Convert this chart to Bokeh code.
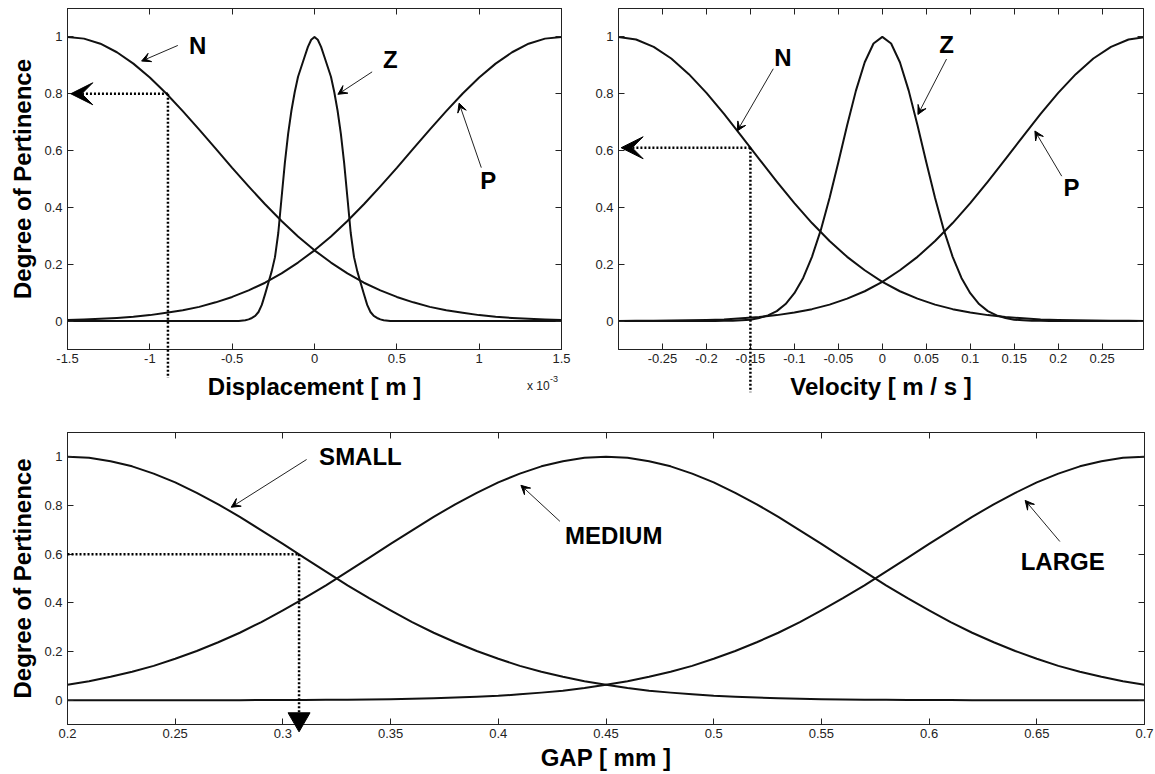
from bokeh.plotting import figure
from bokeh.models import LinearAxis, FixedTicker, Range1d, Label, Arrow, VeeHead
from bokeh.core.properties import value
from bokeh.layouts import column, row
from bokeh.embed import file_html
from bokeh.resources import INLINE

FONT = "Liberation Sans"
INK = "#111111"

# ---------------- data ----------------
# Displacement membership functions (x in units of 1e-3 m)
disp_x = [-1.5, -1.4, -1.3, -1.2, -1.1, -1.0, -0.9, -0.8, -0.7, -0.6, -0.5,
          -0.4, -0.3, -0.2, -0.1, 0.0, 0.1, 0.2, 0.3, 0.4, 0.5,
          0.6, 0.7, 0.8, 0.9, 1.0, 1.1, 1.2, 1.3, 1.4, 1.5]
disp_N = [1.000, 0.994, 0.976, 0.946, 0.906, 0.857, 0.801, 0.739, 0.674, 0.607, 0.539,
          0.474, 0.411, 0.352, 0.298, 0.249, 0.206, 0.168, 0.135, 0.108, 0.085,
          0.066, 0.050, 0.038, 0.029, 0.021, 0.015, 0.011, 0.008, 0.006, 0.004]
disp_P = [0.004, 0.006, 0.008, 0.011, 0.015, 0.021, 0.029, 0.038, 0.050, 0.066, 0.085,
          0.108, 0.135, 0.168, 0.206, 0.249, 0.298, 0.352, 0.411, 0.474, 0.539,
          0.607, 0.674, 0.739, 0.801, 0.857, 0.906, 0.946, 0.976, 0.994, 1.000]
dispZ_x = [-1.5, -0.6, -0.46, -0.42, -0.40, -0.38, -0.36, -0.34, -0.32, -0.30, -0.28,
           -0.26, -0.24, -0.22, -0.20, -0.18, -0.16, -0.14, -0.12, -0.10, -0.08,
           -0.06, -0.04, -0.02, 0.0, 0.02, 0.04, 0.06, 0.08, 0.10, 0.12,
           0.14, 0.16, 0.18, 0.20, 0.22, 0.24, 0.26, 0.28, 0.30, 0.32,
           0.34, 0.36, 0.38, 0.40, 0.42, 0.46, 0.6, 1.5]
disp_Z = [0.0, 0.0, 0.0, 0.003, 0.006, 0.011, 0.018, 0.032, 0.057, 0.095, 0.135,
          0.175, 0.225, 0.310, 0.434, 0.557, 0.660, 0.741, 0.806, 0.860, 0.895,
          0.930, 0.965, 0.990, 1.000, 0.990, 0.965, 0.930, 0.895, 0.860, 0.806,
          0.741, 0.660, 0.557, 0.434, 0.310, 0.225, 0.175, 0.135, 0.095, 0.057,
          0.032, 0.018, 0.011, 0.006, 0.003, 0.0, 0.0, 0.0]

# Velocity membership functions (m/s)
vel_x = [-0.30, -0.28, -0.26, -0.24, -0.22, -0.20, -0.18, -0.16, -0.14, -0.12, -0.10,
         -0.08, -0.06, -0.04, -0.02, 0.00, 0.02, 0.04, 0.06, 0.08, 0.10,
         0.12, 0.14, 0.16, 0.18, 0.20, 0.22, 0.24, 0.26, 0.28, 0.30]
vel_N = [1.000, 0.991, 0.965, 0.924, 0.869, 0.803, 0.729, 0.650, 0.570, 0.491, 0.415,
         0.345, 0.282, 0.226, 0.179, 0.138, 0.105, 0.079, 0.058, 0.042, 0.030,
         0.021, 0.014, 0.010, 0.006, 0.004, 0.003, 0.002, 0.001, 0.001, 0.000]
vel_P = [0.000, 0.001, 0.001, 0.002, 0.003, 0.004, 0.006, 0.010, 0.014, 0.021, 0.030,
         0.042, 0.058, 0.079, 0.105, 0.138, 0.179, 0.226, 0.282, 0.345, 0.415,
         0.491, 0.570, 0.650, 0.729, 0.803, 0.869, 0.924, 0.965, 0.991, 1.000]
velZ_x = [-0.30, -0.20, -0.19, -0.18, -0.17, -0.16, -0.15, -0.14, -0.13, -0.12, -0.11,
          -0.10, -0.09, -0.08, -0.07, -0.06, -0.05, -0.04, -0.03, -0.02, -0.01,
          0.00, 0.01, 0.02, 0.03, 0.04, 0.05, 0.06, 0.07, 0.08, 0.09,
          0.10, 0.11, 0.12, 0.13, 0.14, 0.15, 0.16, 0.17, 0.18, 0.19, 0.20, 0.30]
vel_Z = [0.0, 0.0, 0.0, 0.001, 0.001, 0.003, 0.005, 0.011, 0.020, 0.035, 0.060,
         0.098, 0.152, 0.226, 0.320, 0.433, 0.559, 0.689, 0.811, 0.911, 0.977,
         1.000, 0.977, 0.911, 0.811, 0.689, 0.559, 0.433, 0.320, 0.226, 0.152,
         0.098, 0.060, 0.035, 0.020, 0.011, 0.005, 0.003, 0.001, 0.001, 0.0, 0.0, 0.0]

# Gap membership functions (mm)
gap_x = [0.20, 0.21, 0.22, 0.23, 0.24, 0.25, 0.26, 0.27, 0.28, 0.29,
         0.30, 0.31, 0.32, 0.33, 0.34, 0.35, 0.36, 0.37, 0.38, 0.39,
         0.40, 0.41, 0.42, 0.43, 0.44, 0.45, 0.46, 0.47, 0.48, 0.49,
         0.50, 0.51, 0.52, 0.53, 0.54, 0.55, 0.56, 0.57, 0.58, 0.59,
         0.60, 0.61, 0.62, 0.63, 0.64, 0.65, 0.66, 0.67, 0.68, 0.69, 0.70]
gap_small = [1.000, 0.996, 0.982, 0.961, 0.931, 0.895, 0.852, 0.805, 0.753, 0.698,
             0.642, 0.585, 0.528, 0.472, 0.419, 0.369, 0.321, 0.277, 0.238, 0.202,
             0.170, 0.141, 0.117, 0.096, 0.078, 0.063, 0.050, 0.039, 0.031, 0.024,
             0.018, 0.014, 0.011, 0.008, 0.006, 0.004, 0.003, 0.002, 0.002, 0.001,
             0.001, 0.001, 0.000, 0.000, 0.000, 0.000, 0.000, 0.000, 0.000, 0.000, 0.000]
gap_medium = [0.063, 0.078, 0.096, 0.117, 0.141, 0.170, 0.202, 0.238, 0.277, 0.321,
              0.369, 0.419, 0.472, 0.528, 0.585, 0.642, 0.698, 0.753, 0.805, 0.852,
              0.895, 0.931, 0.961, 0.982, 0.996, 1.000, 0.996, 0.982, 0.961, 0.931,
              0.895, 0.852, 0.805, 0.753, 0.698, 0.642, 0.585, 0.528, 0.472, 0.419,
              0.369, 0.321, 0.277, 0.238, 0.202, 0.170, 0.141, 0.117, 0.096, 0.078, 0.063]
gap_large = [0.000, 0.000, 0.000, 0.000, 0.000, 0.000, 0.000, 0.000, 0.000, 0.001,
             0.001, 0.001, 0.002, 0.002, 0.003, 0.004, 0.006, 0.008, 0.011, 0.014,
             0.018, 0.024, 0.031, 0.039, 0.050, 0.063, 0.078, 0.096, 0.117, 0.141,
             0.170, 0.202, 0.238, 0.277, 0.321, 0.369, 0.419, 0.472, 0.528, 0.585,
             0.642, 0.698, 0.753, 0.805, 0.852, 0.895, 0.931, 0.961, 0.982, 0.996, 1.000]

# Read-off examples: (input value, degree of pertinence)
disp_probe = (-0.89, 0.8)
vel_probe = (-0.15, 0.61)
gap_probe = (0.3075, 0.6)

# Tick values and labels
y_ticks = [0, 0.2, 0.4, 0.6, 0.8, 1]
y_labels = ["0", "0.2", "0.4", "0.6", "0.8", "1"]
disp_ticks = [-1.5, -1.0, -0.5, 0.0, 0.5, 1.0, 1.5]
disp_labels = ["-1.5", "-1", "-0.5", "0", "0.5", "1", "1.5"]
vel_ticks = [-0.25, -0.2, -0.15, -0.1, -0.05, 0.0, 0.05, 0.1, 0.15, 0.2, 0.25]
vel_labels = ["-0.25", "-0.2", "-0.15", "-0.1", "-0.05", "0", "0.05", "0.1", "0.15", "0.2", "0.25"]
gap_ticks = [0.2, 0.25, 0.3, 0.35, 0.4, 0.45, 0.5, 0.55, 0.6, 0.65, 0.7]
gap_labels = ["0.2", "0.25", "0.3", "0.35", "0.4", "0.45", "0.5", "0.55", "0.6", "0.65", "0.7"]


# ---------------- helpers ----------------
def style_axis(ax, ticks, labels, show_labels=True):
    ax.ticker = FixedTicker(ticks=ticks)
    ax.major_tick_in = 6
    ax.major_tick_out = 0
    ax.minor_tick_line_color = None
    ax.axis_line_color = "#222222"
    ax.major_tick_line_color = "#222222"
    ax.axis_label_text_font = FONT
    ax.axis_label_text_font_size = "24px"
    ax.axis_label_text_font_style = "bold"
    ax.axis_label_text_color = "black"
    ax.major_label_text_font = FONT
    if show_labels:
        ax.major_label_overrides = dict(zip(ticks, labels))
        ax.major_label_text_font_size = "13px"
        ax.major_label_text_color = "#222222"
    else:
        # box-style tick marks only: labels are not painted
        ax.major_label_text_font_size = "1px"
        ax.major_label_text_color = None
        ax.major_label_standoff = 0


def make_panel(width, height, xr, borders, xticks, xlabels, xtitle, ytitle, title_gap):
    p = figure(width=width, height=height, x_range=Range1d(*xr), y_range=Range1d(-0.1, 1.1),
               output_backend="svg", toolbar_location=None,
               min_border_left=borders[0], min_border_right=borders[1],
               min_border_top=borders[2], min_border_bottom=borders[3])
    p.grid.visible = False
    p.outline_line_color = "#222222"
    p.background_fill_color = "white"
    p.border_fill_color = "white"
    style_axis(p.xaxis[0], xticks, xlabels)
    style_axis(p.yaxis[0], y_ticks, y_labels)
    p.xaxis[0].axis_label = xtitle
    p.xaxis[0].major_label_standoff = 4
    p.xaxis[0].axis_label_standoff = title_gap
    if ytitle:
        p.yaxis[0].axis_label = ytitle
        p.yaxis[0].axis_label_standoff = 5
    top = LinearAxis()
    style_axis(top, xticks, xlabels, show_labels=False)
    p.add_layout(top, "above")
    right = LinearAxis()
    style_axis(right, y_ticks, y_labels, show_labels=False)
    p.add_layout(right, "right")
    return p


def curve(p, x, y):
    p.line(x, y, line_color=INK, line_width=2, line_join="round")


def tag(p, x, y, text):
    p.add_layout(Label(x=x, y=y, text=text, text_font=FONT, text_font_size="24px",
                       text_font_style="bold", text_color="black",
                       text_align="center", text_baseline="middle"))


def pointer(p, x0, y0, x1, y1):
    p.add_layout(Arrow(x_start=x0, y_start=y0, x_end=x1, y_end=y1,
                       line_color="#222222", line_width=1,
                       end=VeeHead(size=9, fill_color="black", line_color="black", line_width=1)))


def dotted(p, xs, ys):
    # drawn on the overlay level so it may run past the axes box
    p.line(xs, ys, line_color="black", line_width=2.5, line_dash="2 2", level="overlay")


def readout_left(p, probe, x_edge, y_low):
    px, py = probe
    p.add_layout(Arrow(x_start=px, y_start=py, x_end=x_edge, y_end=py,
                       line_color="black", line_width=2.5, line_dash="2 2",
                       end=VeeHead(size=22, fill_color="black", line_color="black")))
    dotted(p, [px, px], [py, y_low])


# ---------------- displacement ----------------
p1 = make_panel(580, 410, (-1.5, 1.5), (67, 19, 8, 58), disp_ticks, disp_labels,
                "Displacement [ m ]", "Degree of Pertinence", 7)
curve(p1, disp_x, disp_N)
curve(p1, disp_x, disp_P)
curve(p1, dispZ_x, disp_Z)
readout_left(p1, disp_probe, -1.48, -0.2)
tag(p1, -0.71, 0.97, "N")
pointer(p1, -0.83, 0.97, -1.05, 0.915)
tag(p1, 0.46, 0.92, "Z")
pointer(p1, 0.35, 0.877, 0.142, 0.798)
tag(p1, 1.055, 0.495, "P")
pointer(p1, 1.013, 0.54, 0.878, 0.767)
# axis scale factor, x 10^-3, written just under the right end of the axis
p1.text(x=[1.29], y=[-0.09], text=["x 10"], y_offset=39,
        text_font=value(FONT), text_font_size="12px", text_color="#222222",
        text_align="left", text_baseline="middle", level="overlay")
p1.text(x=[1.43], y=[-0.09], text=["-3"], y_offset=32,
        text_font=value(FONT), text_font_size="9px", text_color="#222222",
        text_align="left", text_baseline="middle", level="overlay")

# ---------------- velocity ----------------
p2 = make_panel(575, 410, (-0.3, 0.297), (38, 12, 4, 61), vel_ticks, vel_labels,
                "Velocity [ m / s ]", None, 7)
curve(p2, vel_x, vel_N)
curve(p2, vel_x, vel_P)
curve(p2, velZ_x, vel_Z)
readout_left(p2, vel_probe, -0.297, -0.25)
tag(p2, -0.113, 0.928, "N")
pointer(p2, -0.124, 0.888, -0.165, 0.669)
tag(p2, 0.073, 0.973, "Z")
pointer(p2, 0.073, 0.922, 0.0405, 0.727)
tag(p2, 0.215, 0.47, "P")
pointer(p2, 0.204, 0.51, 0.1735, 0.669)

# ---------------- gap ----------------
p3 = make_panel(1155, 364, (0.2, 0.7), (67, 11, 22, 50), gap_ticks, gap_labels,
                "GAP [ mm ]", "Degree of Pertinence", 3)
curve(p3, gap_x, gap_small)
curve(p3, gap_x, gap_medium)
curve(p3, gap_x, gap_large)
gx, gy = gap_probe
dotted(p3, [0.2, gx], [gy, gy])
dotted(p3, [gx, gx], [gy, -0.08])
p3.scatter([gx], [-0.078], marker="inverted_triangle", size=22,
           fill_color="black", line_color="black", level="overlay")
tag(p3, 0.336, 1.0, "SMALL")
pointer(p3, 0.311, 0.989, 0.276, 0.793)
tag(p3, 0.4536, 0.676, "MEDIUM")
pointer(p3, 0.4286, 0.735, 0.4105, 0.883)
tag(p3, 0.662, 0.57, "LARGE")
pointer(p3, 0.6607, 0.652, 0.6446, 0.821)

layout = column(row(p1, p2), p3)
open("out.html", "w").write(file_html(layout, INLINE))
